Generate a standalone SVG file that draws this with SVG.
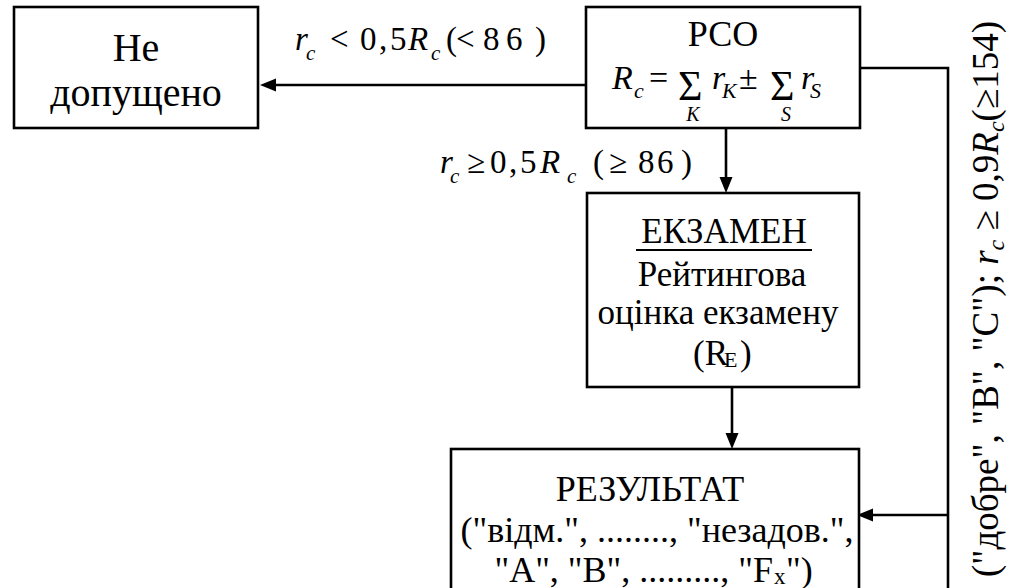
<svg xmlns="http://www.w3.org/2000/svg" width="1011" height="588" viewBox="0 0 1011 588">
<rect width="1011" height="588" fill="#fff"/>

<g id="connectors" stroke="#000" stroke-width="2.6">
<line x1="586" y1="85" x2="272" y2="85"/>
<polygon points="260,85 276,78.5 276,91.5" fill="#000" stroke="none"/>
<line x1="726" y1="128" x2="726" y2="180"/>
<polygon points="726,193 719.5,177 732.5,177" fill="#000" stroke="none"/>
<line x1="732" y1="387" x2="732" y2="436"/>
<polygon points="732,449 725.5,433 738.5,433" fill="#000" stroke="none"/>
<polyline points="860,68 948,68 948,590" fill="none"/>
<line x1="948" y1="515" x2="870" y2="515"/>
<polygon points="857,515 873,508.5 873,521.5" fill="#000" stroke="none"/>
</g>

<g id="label-not-admitted">
<text font-family="Liberation Serif" font-size="33" font-style="italic" x="295" y="50">r</text>
<text font-family="Liberation Serif" font-size="21" font-style="italic" x="306" y="60">c</text>
<text font-family="Liberation Serif" font-size="33" x="330" y="50">&lt;</text>
<text font-family="Liberation Serif" font-size="33" x="360" y="50">0</text>
<text font-family="Liberation Serif" font-size="33" x="379" y="50">,</text>
<text font-family="Liberation Serif" font-size="33" x="390" y="50">5</text>
<text font-family="Liberation Serif" font-size="33" font-style="italic" x="408" y="50">R</text>
<text font-family="Liberation Serif" font-size="21" font-style="italic" x="431" y="60">c</text>
<text font-family="Liberation Serif" font-size="33" x="446" y="50">(</text>
<text font-family="Liberation Serif" font-size="33" x="456" y="50">&lt;</text>
<text font-family="Liberation Serif" font-size="33" x="483" y="50">8</text>
<text font-family="Liberation Serif" font-size="33" x="506" y="50">6</text>
<text font-family="Liberation Serif" font-size="33" x="535" y="50">)</text>
</g>

<g id="label-admitted">
<text font-family="Liberation Serif" font-size="33" font-style="italic" x="440" y="173">r</text>
<text font-family="Liberation Serif" font-size="21" font-style="italic" x="450" y="183">c</text>
<text font-family="Liberation Serif" font-size="33" x="467" y="173">≥</text>
<text font-family="Liberation Serif" font-size="33" x="490" y="173">0</text>
<text font-family="Liberation Serif" font-size="33" x="509" y="173">,</text>
<text font-family="Liberation Serif" font-size="33" x="520" y="173">5</text>
<text font-family="Liberation Serif" font-size="33" font-style="italic" x="540" y="173">R</text>
<text font-family="Liberation Serif" font-size="21" font-style="italic" x="567" y="183">c</text>
<text font-family="Liberation Serif" font-size="33" x="593" y="173">(</text>
<text font-family="Liberation Serif" font-size="33" x="609" y="173">≥</text>
<text font-family="Liberation Serif" font-size="33" x="638" y="173">8</text>
<text font-family="Liberation Serif" font-size="33" x="657" y="173">6</text>
<text font-family="Liberation Serif" font-size="33" x="681" y="173">)</text>
</g>

<g id="label-excellent">
<text font-family="Liberation Serif" font-size="37" text-anchor="middle" transform="translate(998 299) rotate(-90)">("добре", "B", "C"); <tspan font-style="italic">r</tspan><tspan font-style="italic" font-size="24" dy="6">c</tspan><tspan dy="-6"> ≥ 0,9</tspan><tspan font-style="italic">R</tspan><tspan font-style="italic" font-size="24" dy="6">c</tspan><tspan dy="-6">(≥154)</tspan></text>
</g>

<g id="node-ne-dopushcheno">
<rect x="14" y="7" width="244" height="121" fill="#fff" stroke="#000" stroke-width="2.6"/>
<text font-family="Liberation Serif" text-anchor="middle" x="136" y="61" font-size="40">Не</text>
<text font-family="Liberation Serif" text-anchor="middle" x="136" y="106" font-size="40">допущено</text>
</g>

<g id="node-rso">
<rect x="586" y="7" width="274" height="121" fill="#fff" stroke="#000" stroke-width="2.6"/>
<text font-family="Liberation Serif" text-anchor="middle" x="723" y="46" font-size="36">РСО</text>
<text font-family="Liberation Serif" font-size="34" font-style="italic" x="612" y="89">R</text>
<text font-family="Liberation Serif" font-size="22" font-style="italic" x="634" y="98">c</text>
<text font-family="Liberation Serif" font-size="34" x="649" y="89">=</text>
<text font-family="Liberation Serif" font-size="42" x="678" y="100">Σ</text>
<text font-family="Liberation Serif" font-size="20" font-style="italic" text-anchor="middle" x="693" y="121">K</text>
<text font-family="Liberation Serif" font-size="34" font-style="italic" x="712" y="89">r</text>
<text font-family="Liberation Serif" font-size="22" font-style="italic" x="722" y="98">K</text>
<text font-family="Liberation Serif" font-size="34" x="739" y="89">±</text>
<text font-family="Liberation Serif" font-size="42" x="770" y="100">Σ</text>
<text font-family="Liberation Serif" font-size="20" font-style="italic" text-anchor="middle" x="786" y="121">S</text>
<text font-family="Liberation Serif" font-size="34" font-style="italic" x="801" y="89">r</text>
<text font-family="Liberation Serif" font-size="22" font-style="italic" x="810" y="98">S</text>
</g>

<g id="node-ekzamen">
<rect x="587" y="193" width="272" height="194" fill="#fff" stroke="#000" stroke-width="2.6"/>
<text font-family="Liberation Serif" text-anchor="middle" x="724" y="243" font-size="35">ЕКЗАМЕН</text>
<line x1="636" y1="250" x2="812" y2="250" stroke="#000" stroke-width="2"/>
<text font-family="Liberation Serif" text-anchor="middle" x="722" y="286" font-size="35">Рейтингова</text>
<text font-family="Liberation Serif" text-anchor="middle" x="718" y="324" font-size="35">оцінка екзамену</text>
<text font-family="Liberation Serif" x="693" y="365" font-size="35">(R</text>
<text font-family="Liberation Serif" x="724" y="367" font-size="22">E</text>
<text font-family="Liberation Serif" x="740" y="365" font-size="35">)</text>
</g>

<g id="node-rezultat">
<rect x="451" y="449" width="408" height="160" fill="#fff" stroke="#000" stroke-width="2.6"/>
<text font-family="Liberation Serif" text-anchor="middle" x="650" y="501" font-size="36">РЕЗУЛЬТАТ</text>
<text font-family="Liberation Serif" text-anchor="middle" x="657" y="542" font-size="36">("відм.", ........, "незадов.",</text>
<text font-family="Liberation Serif" text-anchor="end" x="773" y="582" font-size="36">"A", "B", ........., "F</text>
<text font-family="Liberation Serif" x="774" y="584" font-size="23">x</text>
<text font-family="Liberation Serif" x="786" y="582" font-size="36">")</text>
</g>
</svg>
